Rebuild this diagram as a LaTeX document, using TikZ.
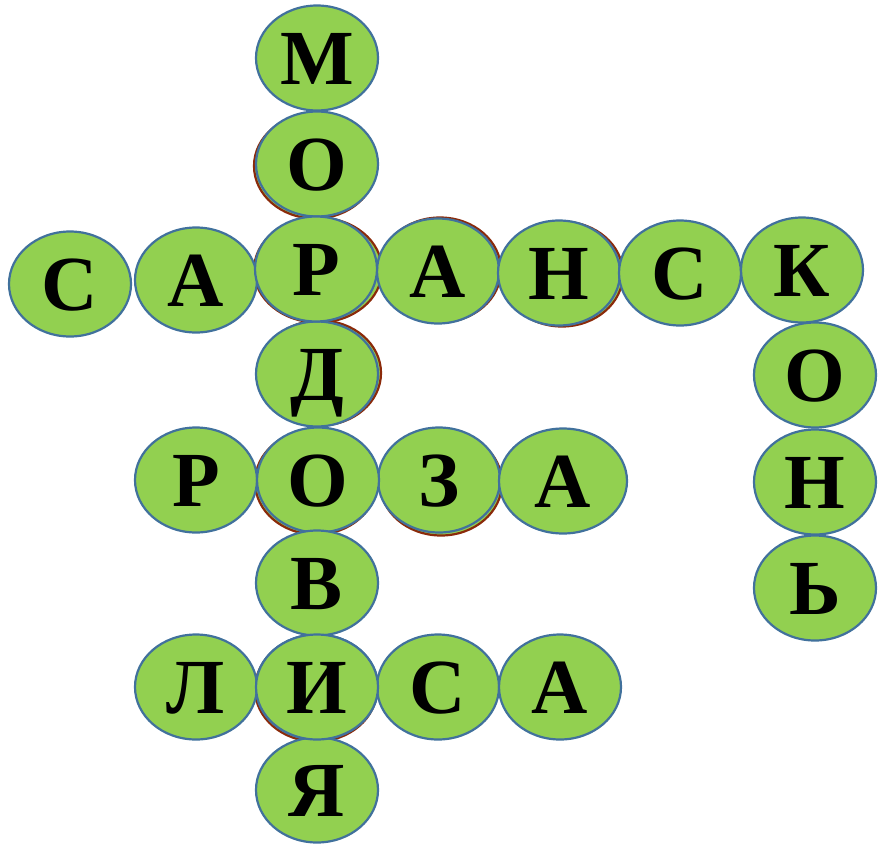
\documentclass[tikz,border=0pt]{standalone}
\usepackage{fontspec}
\setmainfont{Liberation Serif}
\definecolor{cellfill}{HTML}{92D050}
\definecolor{cellline}{HTML}{41719C}
\definecolor{shadowline}{HTML}{8B2A0A}
\tikzset{
  cell/.style={ellipse, minimum width=122pt, minimum height=105pt, inner sep=0pt,
    fill=cellfill, draw=cellline, line width=2.2pt,
    font=\fontsize{78}{78}\selectfont\bfseries, text height=52pt, text depth=0pt},
  ghost/.style={ellipse, minimum width=122pt, minimum height=105pt, inner sep=0pt,
    fill=cellfill, draw=shadowline, line width=2.2pt}
}
\usetikzlibrary{shapes.geometric}
\begin{document}
\begin{tikzpicture}[x=1pt,y=-1pt]
\useasboundingbox (0,0) rectangle (878,852);
% shadow duplicates
\node[ghost] (g1) at (315,166) {};
\node[ghost] (g2) at (318,270) [minimum width=128pt] {};
\node[ghost] (g3) at (440,270) {};
\node[ghost] (g4) at (562,274) {};
\node[ghost] (g5) at (320,373) {};
\node[ghost] (g6) at (441,483) {};
\node[ghost] (g7) at (316,689) {};
\node[ghost] (g8) at (316,482) {};
% МОРДОВИЯ
\node[cell] (m1) at (317,58) {М};
\node[cell] (m2) at (317,164) {О};
\node[cell] (m4) at (317,374) {Д};
\node[cell] (m7) at (317,687) {И};
\node[cell] (m8) at (317,790) {Я};
% САРАНСК
\node[cell] (s1) at (70,284) {С};
\node[cell] (s2) at (196,280) {А};
\node[cell] (s4) at (438,271) {А};
\node[cell] (s5) at (559,273) {Н};
\node[cell] (s6) at (680,273) {С};
\node[cell] (s3) at (316,269) {Р};
\node[cell] (s7) at (802,270) {К};
% КОНЬ
\node[cell] (k2) at (815,375) {О};
\node[cell] (k3) at (815,482) {Н};
\node[cell] (k4) at (815,588) {Ь};
% РОЗА
\node[cell] (r1) at (196,480) {Р};
\node[cell] (r3) at (439,480) {З};
\node[cell, minimum width=128pt] (r4) at (563,481) {А};
\node[cell] (r2) at (318,480) {О};
% В
\node[cell] (m6) at (317,583) {В};
% ЛИСА
\node[cell] (l1) at (196,687) {Л};
\node[cell] (l3) at (438,687) {С};
\node[cell] (l4) at (560,687) {А};
\node[cell] (l2) at (317,687) {И};
\end{tikzpicture}
\end{document}
